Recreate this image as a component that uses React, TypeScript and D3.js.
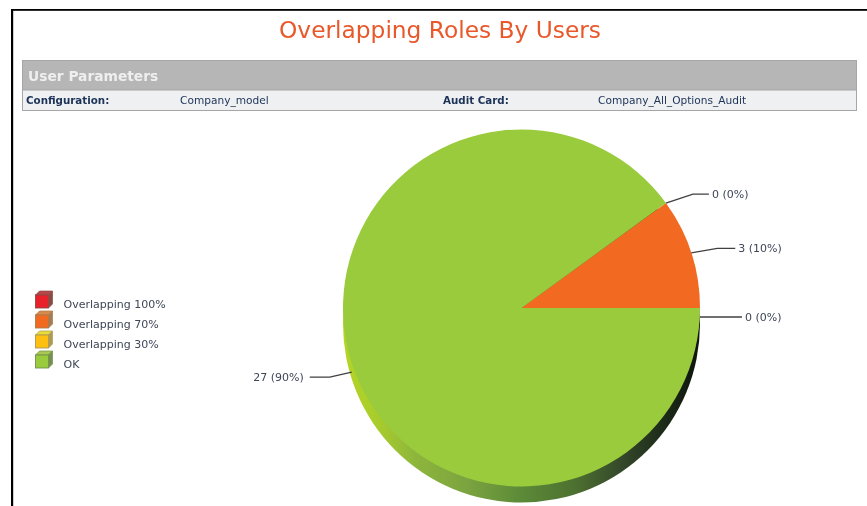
import React from "react";
import * as d3 from "d3";

const categories = ["Overlapping 100%", "Overlapping 70%", "Overlapping 30%", "OK"];
const values = [0, 3, 0, 27];
const percents = [0, 10, 0, 90];
const sliceColors = ["#e8202a", "#f26a21", "#fdc010", "#9acb3c"];
const cubeTops = ["#b5474a", "#d98a4a", "#e6dc3a", "#a8c84e"];
const cubeSides = ["#8c4a46", "#a87a4f", "#ad9a55", "#74904f"];
const paramLabels = ["Configuration:", "Audit Card:"];
const paramValues = ["Company_model", "Company_All_Options_Audit"];

const W = 867, H = 506;
const cx = 521.5, cy = 308, R = 178.5, depth = 16;
const font = "'DejaVu Sans', Verdana, sans-serif";
const labelInk = "#3d4657";
const navy = "#1c3257";

// elbow dx, dy and run-out per slice's leader line
const leaderShape: [number, number, number][] = [
  [27, -9, 16],
  [26, -4.5, 18],
  [20, 0, 22],
  [-22, 5, -20],
];

const sideStops: [number, string][] = [
  [0, "#b4d526"],
  [0.1, "#a8cc2c"],
  [0.2, "#8eb63c"],
  [0.35, "#7ba33f"],
  [0.5, "#5c8a38"],
  [0.65, "#4d7030"],
  [0.78, "#34482a"],
  [0.9, "#1c2a18"],
  [1, "#0e140c"],
];

export default function App() {
  const pie = d3
    .pie<number>()
    .sort(null)
    .startAngle((54 * Math.PI) / 180)
    .endAngle((414 * Math.PI) / 180);
  const arcs = pie(values);
  const arc = d3.arc<d3.PieArcDatum<number>>().innerRadius(0).outerRadius(R);
  const disc = d3.arc<any>().innerRadius(0).outerRadius(R).startAngle(0).endAngle(2 * Math.PI);
  const legendY = d3.scalePoint<string>().domain(categories).range([304, 364]);

  return (
    <svg
      width={W}
      height={H}
      viewBox={`0 0 ${W} ${H}`}
      style={{ position: "absolute", left: 0, top: 0, background: "#fff" }}
    >
      <defs>
        <linearGradient id="side" gradientUnits="userSpaceOnUse" x1={-R} x2={R} y1={0} y2={0}>
          {sideStops.map(([o, c]) => (
            <stop key={o} offset={o} stopColor={c} />
          ))}
        </linearGradient>
        <filter id="soft" x="-5%" y="-20%" width="110%" height="140%">
          <feGaussianBlur stdDeviation="0.35" />
        </filter>
      </defs>

      {/* page frame */}
      <rect x={11} y={9} width={W - 11} height={1.8} fill="#000" />
      <rect x={11} y={9} width={2.2} height={H - 9} fill="#000" />

      <text x={440} y={38} textAnchor="middle" fontFamily={font} fontSize={23.3} fill="#e8592b" filter="url(#soft)">
        Overlapping Roles By Users
      </text>

      {/* parameter panel */}
      <rect x={22.5} y={60.5} width={834} height={50} fill="#eef0f2" stroke="#a6a6a6" />
      <rect x={22.5} y={60.5} width={834} height={29.5} fill="#b6b6b6" stroke="#a6a6a6" />
      <text x={28} y={81} fontFamily={font} fontSize={13.8} fontWeight="bold" fill="#efefef" filter="url(#soft)">
        User Parameters
      </text>
      <g fontFamily={font} filter="url(#soft)">
        <text x={26} y={104} fontSize={10.3} fontWeight="bold" fill={navy}>{paramLabels[0]}</text>
        <text x={180} y={104} fontSize={10.6} fill={navy}>{paramValues[0]}</text>
        <text x={443} y={104} fontSize={10.3} fontWeight="bold" fill={navy}>{paramLabels[1]}</text>
        <text x={598} y={104} fontSize={10.6} fill={navy}>{paramValues[1]}</text>
      </g>

      {/* legend */}
      {categories.map((c, i) => {
        const y = legendY(c)!;
        const x0 = 35.5, top = y - 9, s = 13, d = 4;
        return (
          <g key={c}>
            <path d={`M${x0},${top}L${x0 + d},${top - d}H${x0 + s + d}L${x0 + s},${top}Z`} fill={cubeTops[i]} stroke={cubeSides[i]} strokeWidth={0.7} />
            <path d={`M${x0 + s},${top}L${x0 + s + d},${top - d}V${top + s - d}L${x0 + s},${top + s}Z`} fill={cubeSides[i]} stroke={cubeSides[i]} strokeWidth={0.7} />
            <rect x={x0} y={top} width={s} height={s} fill={sliceColors[i]} stroke={cubeSides[i]} strokeWidth={0.9} />
            <text x={63.5} y={y + 4} fontFamily={font} fontSize={11} fill={labelInk} filter="url(#soft)">
              {c}
            </text>
          </g>
        );
      })}

      {/* pie: extruded side, then face */}
      <path d={disc({})!} transform={`translate(${cx},${cy + depth})`} fill="url(#side)" />
      <g transform={`translate(${cx},${cy})`}>
        {arcs.filter((a) => a.value > 0).map((a) => (
          <path key={a.index} d={arc(a)!} fill={sliceColors[a.index]} />
        ))}
      </g>

      {/* leader lines and labels */}
      {arcs.map((a) => {
        const mid = (a.startAngle + a.endAngle) / 2;
        const below = Math.sin(mid - Math.PI / 2) >= -1e-6;
        const ax = cx + R * Math.sin(mid);
        const ay = cy - R * Math.cos(mid) + (below ? depth / 2 + 1 : 0);
        const [dx, dy, run] = leaderShape[a.index];
        const ex = ax + dx, ey = ay + dy;
        const tx = ex + run;
        const line = d3.line()([[ax, ay], [ex, ey], [tx, ey]])!;
        return (
          <g key={a.index}>
            <path d={line} fill="none" stroke="#404040" strokeWidth={1.4} />
            <text
              x={tx + (run > 0 ? 3 : -6)}
              y={ey + 4}
              textAnchor={run > 0 ? "start" : "end"}
              fontFamily={font}
              fontSize={11}
              fill={labelInk}
              filter="url(#soft)"
            >
              {`${a.value} (${percents[a.index]}%)`}
            </text>
          </g>
        );
      })}
    </svg>
  );
}
